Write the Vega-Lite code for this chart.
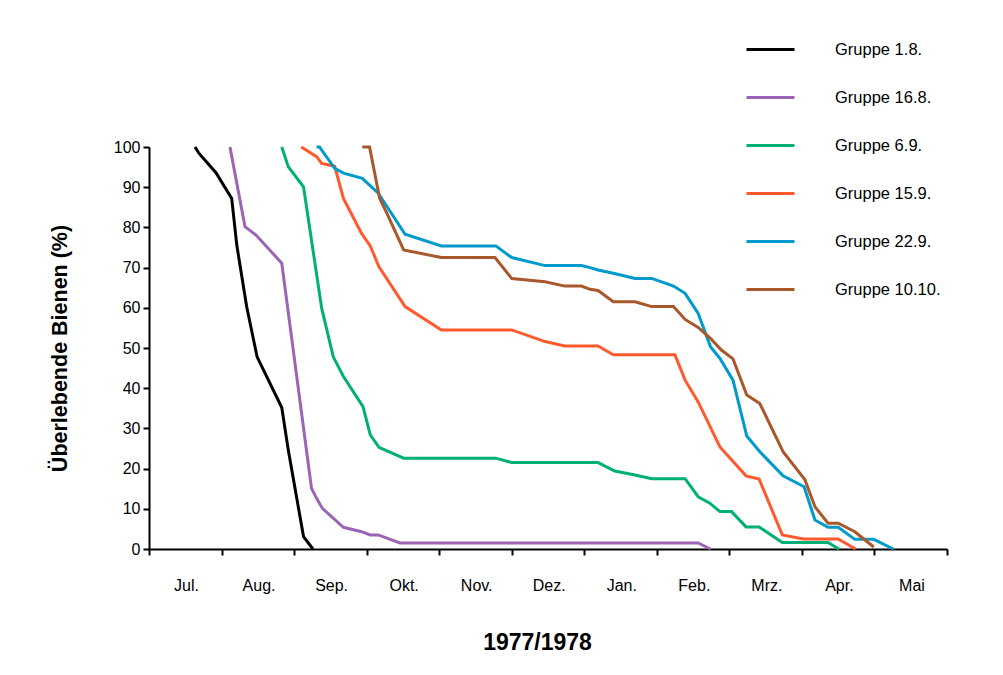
{
  "$schema": "https://vega.github.io/schema/vega-lite/v6.json",
  "autosize": "none",
  "width": 798,
  "height": 402,
  "padding": {"left": 149, "top": 147, "right": 56, "bottom": 126},
  "background": "white",
  "config": {
    "view": {"stroke": null},
    "font": "Liberation Sans",
    "axis": {"labelFont": "Liberation Sans", "labelFontSize": 16, "labelColor": "#000000", "domainColor": "#000000", "domainWidth": 2, "tickColor": "#000000", "tickWidth": 2, "tickSize": 6, "grid": false}
  },
  "data": {"values": [
    {"g":"Gruppe 1.8.","m":0.634,"v":100},{"g":"Gruppe 1.8.","m":0.69,"v":98.4},{"g":"Gruppe 1.8.","m":0.923,"v":93.6},{"g":"Gruppe 1.8.","m":1.14,"v":87.2},{"g":"Gruppe 1.8.","m":1.21,"v":75.6},{"g":"Gruppe 1.8.","m":1.346,"v":60.3},{"g":"Gruppe 1.8.","m":1.49,"v":47.8},{"g":"Gruppe 1.8.","m":1.83,"v":35.2},{"g":"Gruppe 1.8.","m":1.92,"v":24.6},{"g":"Gruppe 1.8.","m":2.13,"v":3.1},{"g":"Gruppe 1.8.","m":2.26,"v":0},
    {"g":"Gruppe 16.8.","m":1.116,"v":100},{"g":"Gruppe 16.8.","m":1.323,"v":80.2},{"g":"Gruppe 16.8.","m":1.475,"v":78.1},{"g":"Gruppe 16.8.","m":1.83,"v":71.1},{"g":"Gruppe 16.8.","m":2.24,"v":15.1},{"g":"Gruppe 16.8.","m":2.31,"v":12.6},{"g":"Gruppe 16.8.","m":2.39,"v":10.1},{"g":"Gruppe 16.8.","m":2.68,"v":5.4},{"g":"Gruppe 16.8.","m":2.93,"v":4.3},{"g":"Gruppe 16.8.","m":3.05,"v":3.5},{"g":"Gruppe 16.8.","m":3.16,"v":3.5},{"g":"Gruppe 16.8.","m":3.46,"v":1.5},{"g":"Gruppe 16.8.","m":7.57,"v":1.5},{"g":"Gruppe 16.8.","m":7.74,"v":0},
    {"g":"Gruppe 6.9.","m":1.83,"v":100},{"g":"Gruppe 6.9.","m":1.92,"v":95.1},{"g":"Gruppe 6.9.","m":2.13,"v":90.1},{"g":"Gruppe 6.9.","m":2.38,"v":59.9},{"g":"Gruppe 6.9.","m":2.54,"v":47.8},{"g":"Gruppe 6.9.","m":2.68,"v":42.9},{"g":"Gruppe 6.9.","m":2.95,"v":35.4},{"g":"Gruppe 6.9.","m":3.05,"v":28.4},{"g":"Gruppe 6.9.","m":3.17,"v":25.3},{"g":"Gruppe 6.9.","m":3.51,"v":22.6},{"g":"Gruppe 6.9.","m":4.78,"v":22.6},{"g":"Gruppe 6.9.","m":5.0,"v":21.5},{"g":"Gruppe 6.9.","m":6.19,"v":21.5},{"g":"Gruppe 6.9.","m":6.42,"v":19.4},{"g":"Gruppe 6.9.","m":6.70,"v":18.4},{"g":"Gruppe 6.9.","m":6.93,"v":17.5},{"g":"Gruppe 6.9.","m":7.39,"v":17.5},{"g":"Gruppe 6.9.","m":7.57,"v":13.0},{"g":"Gruppe 6.9.","m":7.73,"v":11.4},{"g":"Gruppe 6.9.","m":7.87,"v":9.3},{"g":"Gruppe 6.9.","m":8.03,"v":9.3},{"g":"Gruppe 6.9.","m":8.23,"v":5.5},{"g":"Gruppe 6.9.","m":8.41,"v":5.5},{"g":"Gruppe 6.9.","m":8.73,"v":1.6},{"g":"Gruppe 6.9.","m":9.36,"v":1.6},{"g":"Gruppe 6.9.","m":9.51,"v":0},
    {"g":"Gruppe 15.9.","m":2.10,"v":100},{"g":"Gruppe 15.9.","m":2.31,"v":97.6},{"g":"Gruppe 15.9.","m":2.38,"v":95.9},{"g":"Gruppe 15.9.","m":2.56,"v":95.2},{"g":"Gruppe 15.9.","m":2.68,"v":87.2},{"g":"Gruppe 15.9.","m":2.93,"v":78.5},{"g":"Gruppe 15.9.","m":3.05,"v":75.4},{"g":"Gruppe 15.9.","m":3.17,"v":70.2},{"g":"Gruppe 15.9.","m":3.53,"v":60.3},{"g":"Gruppe 15.9.","m":4.03,"v":54.5},{"g":"Gruppe 15.9.","m":5.0,"v":54.5},{"g":"Gruppe 15.9.","m":5.46,"v":51.6},{"g":"Gruppe 15.9.","m":5.73,"v":50.5},{"g":"Gruppe 15.9.","m":6.19,"v":50.5},{"g":"Gruppe 15.9.","m":6.40,"v":48.3},{"g":"Gruppe 15.9.","m":7.25,"v":48.3},{"g":"Gruppe 15.9.","m":7.39,"v":42.0},{"g":"Gruppe 15.9.","m":7.57,"v":36.6},{"g":"Gruppe 15.9.","m":7.87,"v":25.4},{"g":"Gruppe 15.9.","m":8.23,"v":18.2},{"g":"Gruppe 15.9.","m":8.41,"v":17.4},{"g":"Gruppe 15.9.","m":8.73,"v":3.5},{"g":"Gruppe 15.9.","m":9.02,"v":2.5},{"g":"Gruppe 15.9.","m":9.50,"v":2.5},{"g":"Gruppe 15.9.","m":9.74,"v":0},
    {"g":"Gruppe 22.9.","m":2.31,"v":100},{"g":"Gruppe 22.9.","m":2.35,"v":100},{"g":"Gruppe 22.9.","m":2.56,"v":94.7},{"g":"Gruppe 22.9.","m":2.68,"v":93.5},{"g":"Gruppe 22.9.","m":2.94,"v":92.2},{"g":"Gruppe 22.9.","m":3.16,"v":88.5},{"g":"Gruppe 22.9.","m":3.53,"v":78.3},{"g":"Gruppe 22.9.","m":4.03,"v":75.4},{"g":"Gruppe 22.9.","m":4.78,"v":75.4},{"g":"Gruppe 22.9.","m":5.0,"v":72.5},{"g":"Gruppe 22.9.","m":5.46,"v":70.5},{"g":"Gruppe 22.9.","m":5.96,"v":70.5},{"g":"Gruppe 22.9.","m":6.08,"v":70.0},{"g":"Gruppe 22.9.","m":6.19,"v":69.4},{"g":"Gruppe 22.9.","m":6.40,"v":68.6},{"g":"Gruppe 22.9.","m":6.70,"v":67.3},{"g":"Gruppe 22.9.","m":6.93,"v":67.3},{"g":"Gruppe 22.9.","m":7.23,"v":65.4},{"g":"Gruppe 22.9.","m":7.39,"v":63.6},{"g":"Gruppe 22.9.","m":7.57,"v":58.6},{"g":"Gruppe 22.9.","m":7.74,"v":50.3},{"g":"Gruppe 22.9.","m":7.87,"v":47.4},{"g":"Gruppe 22.9.","m":8.05,"v":42.0},{"g":"Gruppe 22.9.","m":8.24,"v":28.1},{"g":"Gruppe 22.9.","m":8.42,"v":24.2},{"g":"Gruppe 22.9.","m":8.74,"v":18.2},{"g":"Gruppe 22.9.","m":9.03,"v":15.5},{"g":"Gruppe 22.9.","m":9.18,"v":7.2},{"g":"Gruppe 22.9.","m":9.36,"v":5.4},{"g":"Gruppe 22.9.","m":9.50,"v":5.4},{"g":"Gruppe 22.9.","m":9.73,"v":2.4},{"g":"Gruppe 22.9.","m":9.99,"v":2.4},{"g":"Gruppe 22.9.","m":10.26,"v":0},
    {"g":"Gruppe 10.10.","m":2.94,"v":100},{"g":"Gruppe 10.10.","m":3.04,"v":100},{"g":"Gruppe 10.10.","m":3.18,"v":87.2},{"g":"Gruppe 10.10.","m":3.28,"v":83.5},{"g":"Gruppe 10.10.","m":3.51,"v":74.4},{"g":"Gruppe 10.10.","m":4.03,"v":72.5},{"g":"Gruppe 10.10.","m":4.77,"v":72.5},{"g":"Gruppe 10.10.","m":5.0,"v":67.3},{"g":"Gruppe 10.10.","m":5.46,"v":66.5},{"g":"Gruppe 10.10.","m":5.73,"v":65.4},{"g":"Gruppe 10.10.","m":5.96,"v":65.4},{"g":"Gruppe 10.10.","m":6.08,"v":64.6},{"g":"Gruppe 10.10.","m":6.19,"v":64.3},{"g":"Gruppe 10.10.","m":6.40,"v":61.5},{"g":"Gruppe 10.10.","m":6.70,"v":61.5},{"g":"Gruppe 10.10.","m":6.93,"v":60.3},{"g":"Gruppe 10.10.","m":7.23,"v":60.3},{"g":"Gruppe 10.10.","m":7.39,"v":57.1},{"g":"Gruppe 10.10.","m":7.57,"v":55.1},{"g":"Gruppe 10.10.","m":7.75,"v":52.2},{"g":"Gruppe 10.10.","m":7.89,"v":49.5},{"g":"Gruppe 10.10.","m":8.05,"v":47.3},{"g":"Gruppe 10.10.","m":8.24,"v":38.3},{"g":"Gruppe 10.10.","m":8.42,"v":36.2},{"g":"Gruppe 10.10.","m":8.74,"v":24.2},{"g":"Gruppe 10.10.","m":9.04,"v":17.3},{"g":"Gruppe 10.10.","m":9.18,"v":10.5},{"g":"Gruppe 10.10.","m":9.36,"v":6.4},{"g":"Gruppe 10.10.","m":9.50,"v":6.4},{"g":"Gruppe 10.10.","m":9.73,"v":4.3},{"g":"Gruppe 10.10.","m":9.99,"v":0.5}
  ]},
  "mark": {"type": "line", "strokeWidth": 3, "strokeJoin": "miter", "clip": false},
  "encoding": {
    "x": {
      "field": "m", "type": "quantitative",
      "scale": {"domain": [0, 11], "nice": false, "zero": false},
      "axis": {
        "values": [0,1,2,3,4,5,6,7,8,9,10,11],
        "labelExpr": "['Jul.','Aug.','Sep.','Okt.','Nov.','Dez.','Jan.','Feb.','Mrz.','Apr.','Mai',''][datum.value]",
        "labelOffset": 37,
        "labelPadding": 22,
        "labelOverlap": false,
        "labelBound": false,
        "labelFlush": false,
        "title": "1977/1978",
        "titleFont": "Liberation Sans",
        "titleFontSize": 23,
        "titleFontWeight": "bold",
        "titleColor": "#000000",
        "titlePadding": 38,
        "titleX": 388
      }
    },
    "y": {
      "field": "v", "type": "quantitative",
      "scale": {"domain": [0, 100], "nice": false},
      "axis": {
        "values": [0,10,20,30,40,50,60,70,80,90,100],
        "labelPadding": 3,
        "title": "Überlebende Bienen (%)",
        "titleFont": "Liberation Sans",
        "titleFontSize": 21.5,
        "titleFontWeight": "bold",
        "titleColor": "#000000",
        "titlePadding": 42
      }
    },
    "color": {
      "field": "g", "type": "nominal",
      "scale": {
        "domain": ["Gruppe 1.8.","Gruppe 16.8.","Gruppe 6.9.","Gruppe 15.9.","Gruppe 22.9.","Gruppe 10.10."],
        "range": ["#000000","#9b64b4","#00b074","#ff5a2e","#009acd","#a8582a"]
      },
      "legend": {
        "orient": "none",
        "legendX": 596,
        "legendY": -123,
        "title": null,
        "symbolType": "stroke",
        "symbolSize": 2304,
        "symbolStrokeWidth": 3,
        "labelFont": "Liberation Sans",
        "labelFontSize": 16.5,
        "labelColor": "#000000",
        "labelOffset": 39,
        "rowPadding": 14
      }
    }
  }
}
